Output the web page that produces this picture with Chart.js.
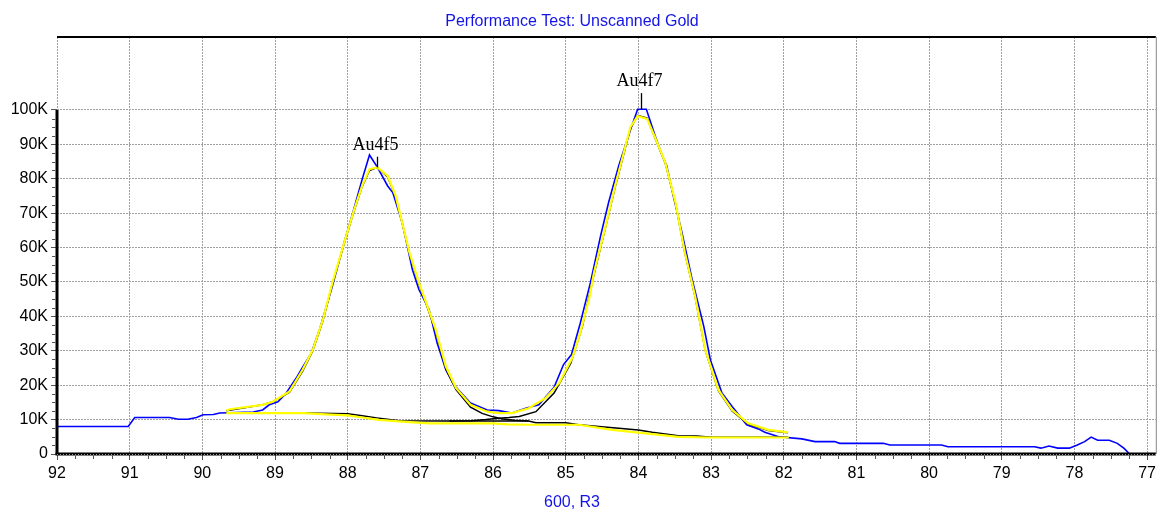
<!DOCTYPE html>
<html><head><meta charset="utf-8">
<script src="https://cdn.jsdelivr.net/npm/chart.js@4.4.1/dist/chart.umd.min.js"></script>
<style>html,body{margin:0;padding:0;background:#fff;}#wrap{width:1160px;height:512px;}</style>
</head><body><div id="wrap"><canvas id="c" width="1160" height="512"></canvas></div>
<script>
const chartTitle = 'Performance Test: Unscanned Gold';
const xAxisTitle = '600, R3';
const xTickValues = [92, 91, 90, 89, 88, 87, 86, 85, 84, 83, 82, 81, 80, 79, 78, 77];
const yTickValues = [0, 10000, 20000, 30000, 40000, 50000, 60000, 70000, 80000, 90000, 100000];
const yTickLabels = ['0', '10K', '20K', '30K', '40K', '50K', '60K', '70K', '80K', '90K', '100K'];

// Measured spectrum (blue)
const measuredX = [92, 91.02, 90.93, 90.45, 90.33, 90.20, 90.08, 89.99, 89.85, 89.76, 89.30, 89.17, 89.08, 88.96, 88.85, 88.71, 88.64, 88.50, 88.39, 88.21, 88.05, 87.91, 87.80, 87.70, 87.59, 87.45, 87.38, 87.25, 87.11, 87.02, 86.88, 86.77, 86.65, 86.54, 86.31, 86.08, 85.92, 85.74, 85.55, 85.46, 85.37, 85.16, 85.03, 84.92, 84.80, 84.66, 84.52, 84.41, 84.27, 84.18, 84.09, 84.01, 83.89, 83.77, 83.68, 83.61, 83.52, 83.40, 83.26, 83.10, 83.01, 82.85, 82.71, 82.51, 82.35, 82.26, 82.07, 81.75, 81.57, 81.30, 81.23, 80.63, 80.54, 79.83, 79.74, 78.55, 78.46, 78.35, 78.23, 78.07, 77.96, 77.86, 77.77, 77.68, 77.52, 77.41, 77.32, 77.24];
const measuredY = [8000, 8000, 10600, 10600, 10100, 10100, 10600, 11400, 11500, 11900, 12200, 12800, 14300, 15200, 17600, 22000, 24500, 29400, 36000, 48800, 61400, 71600, 79900, 86900, 83300, 77900, 76000, 67300, 53600, 47800, 42000, 32300, 24500, 20100, 14800, 12800, 12600, 11900, 13300, 13800, 14300, 19400, 26000, 28900, 38000, 49800, 63400, 73100, 83800, 89600, 95400, 100200, 100200, 92500, 87200, 83800, 75000, 64300, 50700, 37100, 27400, 17700, 13800, 8500, 7300, 6300, 5000, 4400, 3600, 3600, 3100, 3100, 2600, 2600, 2100, 2100, 1700, 2300, 1700, 1700, 2600, 3600, 4900, 4000, 4000, 3100, 1700, 0];

// Fitted envelope (yellow)
const envelopeX = [89.67, 89.62, 89.17, 89.03, 88.80, 88.62, 88.48, 88.34, 88.21, 88.02, 87.91, 87.80, 87.70, 87.59, 87.45, 87.34, 87.15, 87.02, 86.79, 86.65, 86.51, 86.31, 86.08, 85.92, 85.74, 85.51, 85.28, 85.09, 84.91, 84.80, 84.68, 84.61, 84.45, 84.32, 84.11, 84.01, 83.88, 83.77, 83.63, 83.49, 83.36, 83.22, 83.08, 82.90, 82.71, 82.49, 82.21, 81.94];
const envelopeY = [12600, 13000, 14300, 15200, 18200, 24500, 30300, 39100, 49800, 63400, 71100, 78000, 82800, 83300, 80800, 75000, 58500, 49800, 36200, 25500, 19200, 14300, 12300, 11900, 11900, 13300, 16200, 20600, 27900, 35200, 44900, 52700, 66300, 77900, 95000, 98200, 97400, 92000, 84700, 73100, 58500, 45900, 30300, 18700, 12800, 8900, 7000, 6300];

// Fitted background (yellow)
const fitBgX = [89.67, 88.60, 88.30, 88.00, 87.80, 87.57, 87.25, 86.88, 86.00, 85.80, 85.51, 84.82, 84.36, 83.90, 83.45, 82.99, 81.93];
const fitBgY = [11900, 11900, 11500, 11200, 10600, 9900, 9400, 8900, 8900, 8600, 8500, 8500, 7000, 6000, 5000, 4800, 4800];

// Component Au4f5 (black)
const au4f5X = [89.67, 89.40, 89.17, 89.03, 88.80, 88.62, 88.48, 88.34, 88.21, 88.02, 87.91, 87.80, 87.70, 87.59, 87.45, 87.34, 87.15, 87.02, 86.79, 86.65, 86.51, 86.31, 86.15, 86.00, 85.87, 85.70, 85.51];
const au4f5Y = [12600, 13500, 14300, 15200, 18000, 24100, 30000, 38800, 49500, 63100, 70800, 77800, 82400, 83300, 80500, 74800, 58300, 49500, 35800, 24800, 18700, 13600, 11800, 10800, 10200, 9800, 9600];

// Component Au4f7 (black)
const au4f7X = [86.60, 86.30, 86.10, 85.92, 85.78, 85.64, 85.41, 85.16, 84.93, 84.77, 84.61, 84.45, 84.32, 84.11, 84.01, 83.88, 83.77, 83.63, 83.49, 83.36, 83.22, 83.08, 82.90, 82.71, 82.49, 82.21, 81.94];
const au4f7Y = [9600, 9700, 10000, 10400, 10600, 10900, 12300, 17700, 26400, 37100, 52200, 66000, 77500, 94600, 98400, 97600, 91800, 84500, 72900, 58300, 45700, 30100, 18400, 12500, 8700, 6800, 6200];

// Background (black)
const bgX = [89.67, 89.00, 88.60, 88.00, 87.80, 87.60, 87.29, 86.65, 85.51, 85.41, 85.00, 84.82, 84.27, 84.00, 83.81, 83.45, 83.20, 82.99, 81.94];
const bgY = [12000, 12000, 11900, 11700, 11100, 10500, 9700, 9600, 9600, 9100, 9100, 8500, 7500, 7000, 6300, 5300, 5200, 4900, 4900];

// Peak labels
const peakNames = ['Au4f5', 'Au4f7'];
const peakCentres = [87.59, 83.96];
const peakTops = [83300, 100200];
const markerTops = [86400, 104900];
const labelBaselines = [88400, 107000];

const pts = (xs, ys) => xs.map((x, i) => ({ x: x, y: ys[i] }));
const SANS = '"Liberation Sans", Arial, sans-serif';
const BLUE_TEXT = '#1414e6';

const decor = {
  id: 'decor',
  afterDraw(chart) {
    const { ctx, chartArea: a, scales: { x, y } } = chart;
    ctx.save();
    // top frame
    ctx.strokeStyle = '#000'; ctx.lineWidth = 2;
    ctx.beginPath(); ctx.moveTo(a.left, a.top); ctx.lineTo(a.right, a.top); ctx.stroke();
    // right frame
    ctx.strokeStyle = '#888'; ctx.lineWidth = 1;
    ctx.beginPath(); ctx.moveTo(a.right + 0.5, a.top); ctx.lineTo(a.right + 0.5, a.bottom); ctx.stroke();
    // left axis (0 .. 100K)
    const y0 = y.getPixelForValue(0), y100 = y.getPixelForValue(100000);
    ctx.strokeStyle = '#000'; ctx.lineWidth = 3;
    ctx.beginPath(); ctx.moveTo(a.left, y0); ctx.lineTo(a.left, y100); ctx.stroke();
    // bottom axis
    ctx.beginPath(); ctx.moveTo(a.left - 1.5, a.bottom); ctx.lineTo(a.right, a.bottom); ctx.stroke();
    ctx.strokeStyle = '#9a9a9a'; ctx.lineWidth = 1; ctx.setLineDash([1, 2]);
    ctx.beginPath(); ctx.moveTo(a.left, a.bottom + 0.5); ctx.lineTo(a.right, a.bottom + 0.5); ctx.stroke();
    ctx.setLineDash([]);
    // minor ticks
    ctx.strokeStyle = '#555'; ctx.lineWidth = 1;
    ctx.beginPath();
    for (let k = 77 * 4; k <= 92 * 4; k++) {
      if (k % 4 === 0) continue;
      const px = Math.round(x.getPixelForValue(k / 4)) + 0.5;
      ctx.moveTo(px, a.bottom + 1.5); ctx.lineTo(px, a.bottom + 5);
    }
    for (let k = 1; k < 40; k++) {
      if (k % 4 === 0) continue;
      const py = Math.round(y.getPixelForValue(k * 2500)) + 0.5;
      ctx.moveTo(a.left - 1.5, py); ctx.lineTo(a.left - 5, py);
    }
    ctx.stroke();
    // peak markers and labels
    ctx.strokeStyle = '#000'; ctx.lineWidth = 1.3;
    ctx.fillStyle = '#000';
    ctx.font = '18px "Liberation Serif", "Times New Roman", serif';
    ctx.textAlign = 'center'; ctx.textBaseline = 'alphabetic';
    peakNames.forEach((name, i) => {
      const px = Math.round(x.getPixelForValue(peakCentres[i])) + 0.5;
      ctx.beginPath();
      ctx.moveTo(px, y.getPixelForValue(peakTops[i]));
      ctx.lineTo(px, y.getPixelForValue(markerTops[i]));
      ctx.stroke();
      ctx.fillText(name, px - 2, y.getPixelForValue(labelBaselines[i]));
    });
    // titles
    ctx.fillStyle = BLUE_TEXT;
    ctx.font = '16px ' + SANS;
    ctx.fillText(chartTitle, 572, 25.5);
    ctx.fillText(xAxisTitle, 572, 506.5);
    ctx.restore();
  }
};

new Chart(document.getElementById('c'), {
  type: 'line',
  data: {
    datasets: [
      { label: 'Envelope', data: pts(envelopeX, envelopeY), borderColor: '#ffff00', borderWidth: 2.2 },
      { label: 'Fit background', data: pts(fitBgX, fitBgY), borderColor: '#ffff00', borderWidth: 2.2 },
      { label: 'Au4f5', data: pts(au4f5X, au4f5Y), borderColor: '#000000', borderWidth: 1.5 },
      { label: 'Au4f7', data: pts(au4f7X, au4f7Y), borderColor: '#000000', borderWidth: 1.5 },
      { label: 'Background', data: pts(bgX, bgY), borderColor: '#000000', borderWidth: 1.5 },
      { label: 'Measured', data: pts(measuredX, measuredY), borderColor: '#0000ff', borderWidth: 1.6 }
    ]
  },
  options: {
    responsive: false,
    animation: false,
    elements: { point: { radius: 0 }, line: { tension: 0, fill: false } },
    layout: { padding: { top: 37, right: 2, left: 0, bottom: 0 } },
    plugins: { legend: { display: false }, tooltip: { enabled: false }, title: { display: false } },
    scales: {
      x: {
        type: 'linear', reverse: true, min: 76.88, max: 92,
        afterBuildTicks: s => { s.ticks = xTickValues.map(v => ({ value: v })); },
        afterFit: s => { s.height = 58; },
        ticks: { color: '#000', font: { family: SANS, size: 16 }, padding: 4, maxRotation: 0, autoSkip: false, callback: v => String(v) },
        grid: { color: '#a0a0a0', lineWidth: 1, tickColor: '#555', tickLength: 6 },
        border: { display: false, dash: [2, 1] }
      },
      y: {
        min: 0, max: 121200,
        afterBuildTicks: s => { s.ticks = yTickValues.map(v => ({ value: v })); },
        afterFit: s => { s.width = 57; },
        ticks: { color: '#000', font: { family: SANS, size: 16 }, padding: 3, autoSkip: false, callback: (v, i) => yTickLabels[i] },
        grid: { color: '#a0a0a0', lineWidth: 1, tickColor: '#555', tickLength: 6 },
        border: { display: false, dash: [2, 1] }
      }
    }
  },
  plugins: [decor]
});
</script></body></html>
